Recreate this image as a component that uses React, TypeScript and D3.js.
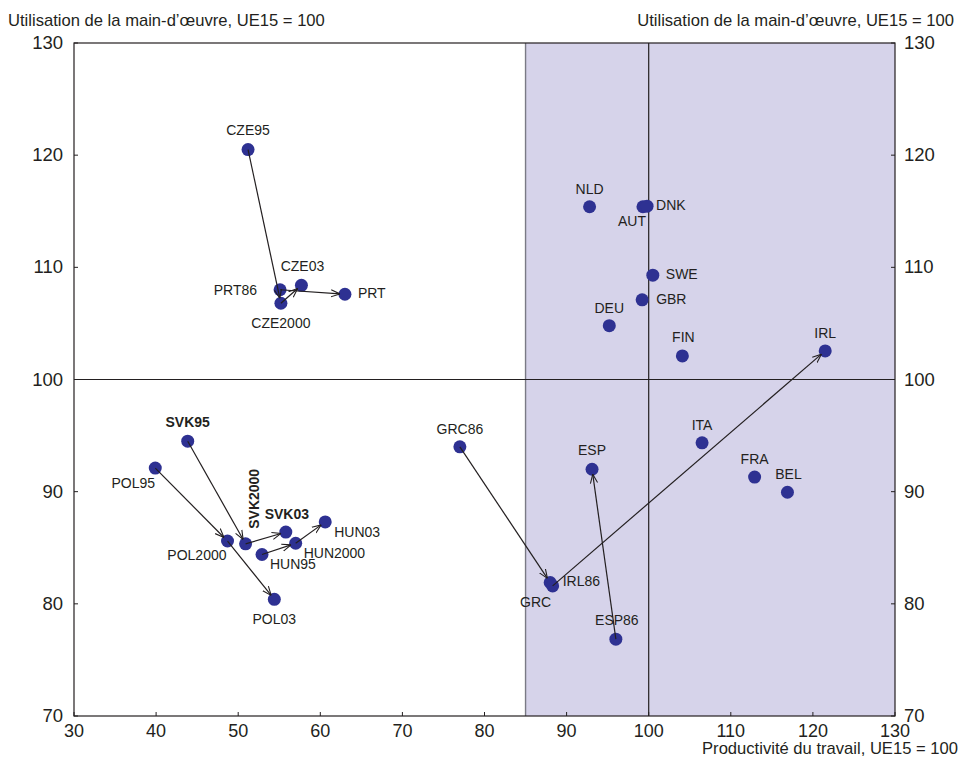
import React from "react";
import * as d3 from "d3";

// ---------- data ----------
const labels = [
  "CZE95", "PRT86", "CZE2000", "CZE03", "PRT",
  "SVK95", "POL95", "POL2000", "SVK2000", "SVK03", "HUN95", "HUN2000", "HUN03", "POL03",
  "GRC86", "ESP", "GRC", "IRL86", "ESP86",
  "NLD", "AUT", "DNK", "SWE", "GBR", "DEU", "FIN", "IRL",
  "ITA", "FRA", "BEL",
];
const productivity = [
  51.2, 55.1, 55.2, 57.7, 63.0,
  43.85, 39.9, 48.7, 50.9, 55.8, 52.9, 57.0, 60.6, 54.4,
  77.0, 93.1, 88.0, 88.3, 96.0,
  92.8, 99.3, 99.8, 100.5, 99.2, 95.2, 104.1, 121.5,
  106.5, 112.9, 116.9,
];
const employment = [
  120.5, 108.0, 106.8, 108.4, 107.6,
  94.5, 92.1, 85.6, 85.35, 86.4, 84.4, 85.4, 87.3, 80.4,
  94.0, 92.0, 81.9, 81.6, 76.85,
  115.4, 115.4, 115.45, 109.3, 107.1, 104.8, 102.1, 102.55,
  94.35, 91.3, 89.95,
];
const boldLabels = ["SVK95", "SVK2000", "SVK03"];
const arrowFrom = ["CZE95", "CZE2000", "PRT86", "POL95", "POL2000", "SVK95", "SVK2000", "HUN95", "HUN2000", "GRC86", "IRL86", "ESP86"];
const arrowTo = ["CZE2000", "CZE03", "PRT", "POL2000", "POL03", "SVK2000", "SVK03", "HUN2000", "HUN03", "GRC", "IRL", "ESP"];
const xTicks = [30, 40, 50, 60, 70, 80, 90, 100, 110, 120, 130];
const yTicks = [70, 80, 90, 100, 110, 120, 130];
const shadeFrom = 85;
const refValue = 100;
const yTitle = "Utilisation de la main-d\u2019\u0153uvre, UE15 = 100";
const xTitle = "Productivit\u00e9 du travail, UE15 = 100";

// ---------- label layout (pixel offsets from the marker) ----------
type Lay = { dx: number; dy: number; a: "start" | "middle" | "end"; rot?: boolean };
const labelLayout: Record<string, Lay> = {
  CZE95: { dx: 0, dy: -15, a: "middle" },
  PRT86: { dx: -23, dy: 5, a: "end" },
  CZE03: { dx: 1, dy: -14, a: "middle" },
  CZE2000: { dx: 0, dy: 25, a: "middle" },
  PRT: { dx: 13, dy: 4, a: "start" },
  SVK95: { dx: 0, dy: -14, a: "middle" },
  POL95: { dx: -22, dy: 20, a: "middle" },
  SVK2000: { dx: 13, dy: -45, a: "middle", rot: true },
  SVK03: { dx: 1, dy: -13, a: "middle" },
  POL2000: { dx: -1, dy: 19, a: "end" },
  HUN95: { dx: 8, dy: 15, a: "start" },
  HUN2000: { dx: 8, dy: 15, a: "start" },
  HUN03: { dx: 9, dy: 15, a: "start" },
  POL03: { dx: 0, dy: 25, a: "middle" },
  GRC86: { dx: 0, dy: -13, a: "middle" },
  ESP: { dx: 0, dy: -14, a: "middle" },
  IRL86: { dx: 10, dy: 0, a: "start" },
  GRC: { dx: 1, dy: 24, a: "end" },
  ESP86: { dx: 1, dy: -14, a: "middle" },
  NLD: { dx: 0, dy: -13, a: "middle" },
  DNK: { dx: 9, dy: 4, a: "start" },
  AUT: { dx: 3, dy: 19, a: "end" },
  SWE: { dx: 13, dy: 4, a: "start" },
  GBR: { dx: 14, dy: 4, a: "start" },
  DEU: { dx: 0, dy: -13, a: "middle" },
  FIN: { dx: 1, dy: -14, a: "middle" },
  IRL: { dx: 0, dy: -13, a: "middle" },
  ITA: { dx: 0, dy: -13, a: "middle" },
  FRA: { dx: 0, dy: -13, a: "middle" },
  BEL: { dx: 1, dy: -13, a: "middle" },
};

const W = 962;
const H = 758;
const M = { left: 74, right: 895, top: 43, bottom: 716 };
const FONT = "'Liberation Sans', Arial, Helvetica, sans-serif";
const DOT = "#2e3192";
const SHADE = "#d6d3ea";
const INK = "#231f20";

export default function App() {
  const x = d3.scaleLinear().domain([30, 130]).range([M.left, M.right]);
  const y = d3.scaleLinear().domain([70, 130]).range([M.bottom, M.top]);

  const pts = labels.map((name, i) => ({ name, px: x(productivity[i]), py: y(employment[i]) }));
  const byName: Record<string, { px: number; py: number }> = {};
  pts.forEach((p) => (byName[p.name] = p));

  const arrows = arrowFrom.map((f, i) => {
    const a = byName[f];
    const b = byName[arrowTo[i]];
    const dx = b.px - a.px;
    const dy = b.py - a.py;
    const len = Math.sqrt(dx * dx + dy * dy);
    const shorten = 5;
    return { x1: a.px, y1: a.py, x2: b.px - (dx / len) * shorten, y2: b.py - (dy / len) * shorten, key: f };
  });

  return (
    <svg width={W} height={H} style={{ position: "absolute", left: 0, top: 0, background: "#fff" }} fontFamily={FONT}>
      <defs>
        <marker id="arr" viewBox="0 0 10 10" refX="10" refY="5" markerWidth="9" markerHeight="9" orient="auto" markerUnits="userSpaceOnUse">
          <path d="M0,1 L10,5 L0,9" fill="none" stroke={INK} strokeWidth={1.2} />
        </marker>
      </defs>
      <rect x={x(shadeFrom)} y={M.top} width={x(130) - x(shadeFrom)} height={M.bottom - M.top} fill={SHADE} />
      <line x1={x(shadeFrom)} x2={x(shadeFrom)} y1={M.top} y2={M.bottom} stroke="#7a7a85" strokeWidth={1.4} />
      <line x1={x(refValue)} x2={x(refValue)} y1={M.top} y2={M.bottom} stroke={INK} strokeWidth={1.2} />
      <line x1={M.left} x2={M.right} y1={y(refValue)} y2={y(refValue)} stroke={INK} strokeWidth={1.2} />
      <rect x={M.left} y={M.top} width={M.right - M.left} height={M.bottom - M.top} fill="none" stroke={INK} strokeWidth={1.2} />
      {xTicks.map((t) => (
        <g key={"xt" + t}>
          <line x1={x(t)} x2={x(t)} y1={M.bottom} y2={M.bottom - 4} stroke={INK} strokeWidth={1} />
          <text x={x(t)} y={737} fontSize={18} textAnchor="middle" fill={INK}>{t}</text>
        </g>
      ))}
      {yTicks.map((t) => (
        <g key={"yt" + t}>
          <line x1={M.left} x2={M.left + 4} y1={y(t)} y2={y(t)} stroke={INK} strokeWidth={1} />
          <line x1={M.right} x2={M.right - 4} y1={y(t)} y2={y(t)} stroke={INK} strokeWidth={1} />
          <text x={63} y={y(t) + 6} fontSize={18.5} textAnchor="end" fill={INK}>{t}</text>
          <text x={904} y={y(t) + 6} fontSize={18.5} textAnchor="start" fill={INK}>{t}</text>
        </g>
      ))}
      <text x={8} y={26} fontSize={16.6} fill={INK}>{yTitle}</text>
      <text x={954} y={26} fontSize={16.6} textAnchor="end" fill={INK}>{yTitle}</text>
      <text x={958} y={754} fontSize={16.6} textAnchor="end" fill={INK}>{xTitle}</text>
      {pts.map((p) => (
        <circle key={"c" + p.name} cx={p.px} cy={p.py} r={6.5} fill={DOT} />
      ))}
      {arrows.map((a) => (
        <line key={"a" + a.key} x1={a.x1} y1={a.y1} x2={a.x2} y2={a.y2} stroke={INK} strokeWidth={1.2} markerEnd="url(#arr)" />
      ))}
      {pts.map((p) => {
        const L = labelLayout[p.name];
        const bold = boldLabels.includes(p.name);
        const tx = p.px + L.dx;
        const ty = p.py + L.dy;
        return (
          <text
            key={"l" + p.name}
            x={L.rot ? 0 : tx}
            y={L.rot ? 0 : ty}
            transform={L.rot ? `translate(${tx},${ty}) rotate(-90)` : undefined}
            fontSize={14}
            fontWeight={bold ? "bold" : "normal"}
            textAnchor={L.a}
            fill={INK}
          >
            {p.name}
          </text>
        );
      })}
    </svg>
  );
}
